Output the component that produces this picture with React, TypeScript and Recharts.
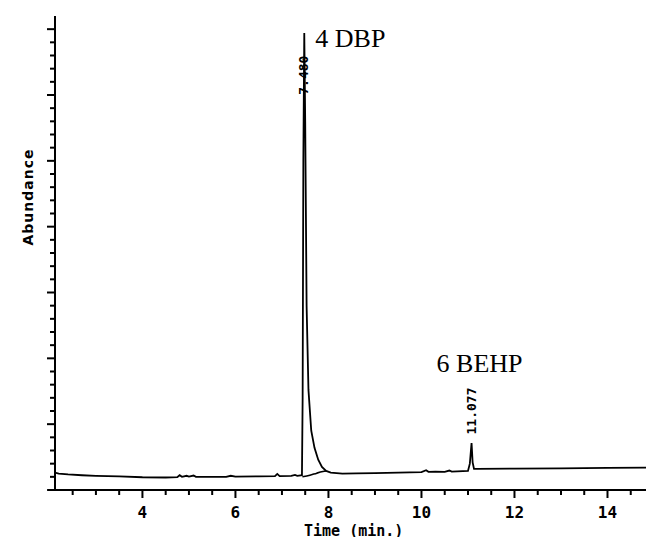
import { Line, LineChart, ReferenceDot, ReferenceLine, XAxis, YAxis } from 'recharts'

// retention time (min) and abundance
const TIME = [
  2.12, 2.2, 2.4, 2.7, 3.0, 3.5, 4.0, 4.5, 4.75, 4.8, 4.85, 4.95, 5.0, 5.1, 5.15, 5.4, 5.8, 5.9, 6.0,
  6.5, 6.85, 6.9, 6.95, 7.2, 7.28, 7.33, 7.43, 7.445, 7.46, 7.48, 7.5, 7.53, 7.57, 7.63, 7.7, 7.78,
  7.86, 7.95, 8.05, 8.3, 8.6, 9.0, 9.5, 10.0, 10.1, 10.15, 10.3, 10.5, 10.6, 10.65, 11.0, 11.04,
  11.077, 11.1, 11.13, 11.2, 12.0, 13.0, 14.0, 15.0,
]
const ABUNDANCE = [
  132, 125, 118, 112, 108, 103, 97, 95, 97, 112, 100, 108, 102, 110, 100, 99, 100, 108, 102,
  103, 105, 122, 106, 108, 115, 108, 112, 700, 2500, 3470, 2800, 1400, 760, 450, 320, 230,
  175, 145, 132, 125, 126, 128, 132, 136, 150, 138, 140, 138, 148, 140, 145, 200,
  357, 210, 160, 160, 162, 165, 168, 170,
]
// drawn baseline under the DBP peak
const BASE_TIME = [7.44, 7.6, 7.75, 7.88, 7.95]
const BASE_ABUNDANCE = [100, 112, 128, 140, 145]

const PEAK_NAMES = ['4 DBP', '6 BEHP']
const PEAK_RT = ['7.480', '11.077']
const PEAK_TIME = [7.48, 11.077]
const PEAK_TOP = [3470, 357]

const X_TICKS = [2.5, 3, 3.5, 4, 4.5, 5, 5.5, 6, 6.5, 7, 7.5, 8, 8.5, 9, 9.5, 10, 10.5, 11, 11.5, 12, 12.5, 13, 13.5, 14, 14.5]
const X_LABELS = [4, 6, 8, 10, 12, 14]
const Y_TICKS = [
  100, 200, 300, 400, 500, 600, 700, 800, 900, 1000, 1100, 1200, 1300, 1400, 1500, 1600, 1700, 1800,
  1900, 2000, 2100, 2200, 2300, 2400, 2500, 2600, 2700, 2800, 2900, 3000, 3100, 3200, 3300, 3400, 3500,
]

const trace = TIME.map((time, i) => ({ time, abundance: ABUNDANCE[i] }))
const baseline = BASE_TIME.map((time, i) => ({ time, abundance: BASE_ABUNDANCE[i] }))

const MONO = '"DejaVu Sans Mono", monospace'
const SERIF = '"Liberation Serif", "Times New Roman", serif'

function TimeTick({ x, y, payload }: any) {
  const major = X_LABELS.includes(payload.value)
  return (
    <g>
      <line x1={x} x2={x} y1={y} y2={y + (major ? 8 : 5)} stroke="#000" strokeWidth={2} />
      {major && (
        <text x={x} y={y + 28} textAnchor="middle" fontFamily={MONO} fontWeight="bold" fontSize={16} fill="#000">
          {payload.value}
        </text>
      )}
    </g>
  )
}

function AbundanceTick({ x, y, payload }: any) {
  const major = payload.value % 500 === 0
  return <line x1={x - (major ? 8 : 5)} x2={x} y1={y} y2={y} stroke="#000" strokeWidth={2} />
}

function peakLabel(i: number) {
  return ({ cx, cy }: any) => {
    const isFirst = i === 0
    const nameX = isFirst ? cx + 11 : cx - 35
    const nameY = isFirst ? cy + 14 : cy - 71
    const rtY = isFirst ? cy + 42 : cy - 32
    return (
      <g>
        <text x={nameX} y={nameY} fontFamily={SERIF} fontSize={26} fill="#000">
          {PEAK_NAMES[i]}
        </text>
        <text
          x={cx + 4}
          y={rtY}
          transform={`rotate(-90 ${cx + 4} ${rtY})`}
          textAnchor="middle"
          fontFamily={MONO}
          fontWeight="bold"
          fontSize={13}
          fill="#000"
        >
          {PEAK_RT[i]}
        </text>
      </g>
    )
  }
}

export default function App() {
  return (
    <div style={{ position: 'relative', width: 654, height: 545, margin: -8, background: '#fff', overflow: 'hidden' }}>
      <LineChart width={654} height={545} margin={{ top: 16, right: 0, bottom: 54, left: 54 }}>
        <XAxis
          dataKey="time"
          type="number"
          domain={[2.12, 15]}
          ticks={X_TICKS}
          interval={0}
          allowDataOverflow
          height={1}
          tickSize={0}
          tickMargin={0}
          tickLine={false}
          axisLine={{ stroke: '#000', strokeWidth: 2 }}
          tick={<TimeTick />}
        />
        <YAxis
          type="number"
          domain={[0, 3600]}
          ticks={Y_TICKS}
          interval={0}
          allowDataOverflow
          width={1}
          tickSize={0}
          tickMargin={0}
          tickLine={false}
          axisLine={{ stroke: '#000', strokeWidth: 2 }}
          tick={<AbundanceTick />}
        />
        <ReferenceLine
          segment={[{ x: 1.95, y: 0 }, { x: 2.12, y: 0 }]}
          ifOverflow="visible"
          stroke="#000"
          strokeWidth={2}
        />
        <Line
          data={trace}
          dataKey="abundance"
          type="linear"
          stroke="#000"
          strokeWidth={1.8}
          dot={false}
          isAnimationActive={false}
        />
        <Line
          data={baseline}
          dataKey="abundance"
          type="monotone"
          stroke="#000"
          strokeWidth={1.6}
          dot={false}
          isAnimationActive={false}
        />
        {PEAK_TIME.map((t, i) => (
          <ReferenceDot key={t} x={t} y={PEAK_TOP[i]} r={0} ifOverflow="visible" shape={peakLabel(i)} />
        ))}
      </LineChart>
      <div
        style={{
          position: 'absolute',
          left: 28,
          top: 197,
          transform: 'translate(-50%, -50%) rotate(-90deg)',
          fontFamily: '"DejaVu Sans", sans-serif',
          fontWeight: 'bold',
          fontSize: 14,
          letterSpacing: 1,
          lineHeight: 1,
          whiteSpace: 'nowrap',
        }}
      >
        Abundance
      </div>
      <div
        style={{
          position: 'absolute',
          left: 304,
          top: 524,
          fontFamily: MONO,
          fontWeight: 'bold',
          fontSize: 15,
          lineHeight: 1,
          whiteSpace: 'pre',
        }}
      >
        Time (min.)
      </div>
    </div>
  )
}
